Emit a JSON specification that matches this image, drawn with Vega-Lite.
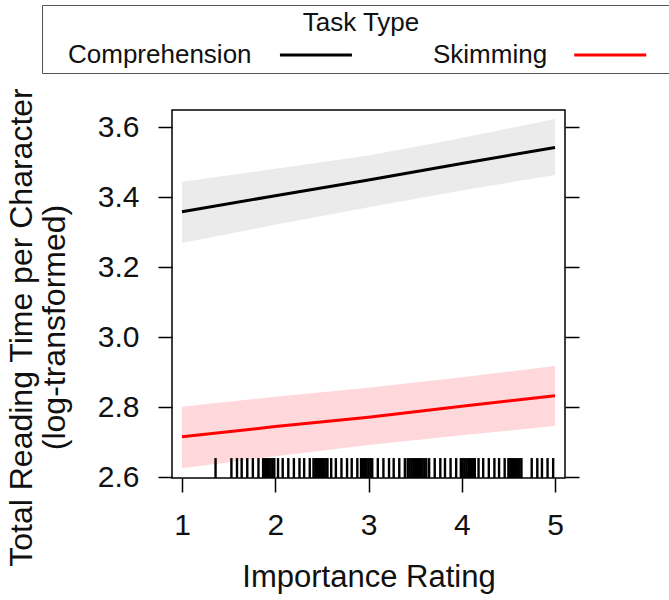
{
  "$schema": "https://vega.github.io/schema/vega-lite/v6.json",
  "width": 393,
  "height": 368,
  "autosize": {"type": "none"},
  "padding": {"left": 172, "top": 110, "right": 104, "bottom": 122},
  "datasets": {
    "fit": [
      {"rating": 1, "task": "Comprehension", "fit": 3.359, "lower": 3.270, "upper": 3.445},
      {"rating": 2, "task": "Comprehension", "fit": 3.405, "lower": 3.322, "upper": 3.482},
      {"rating": 3, "task": "Comprehension", "fit": 3.450, "lower": 3.372, "upper": 3.520},
      {"rating": 4, "task": "Comprehension", "fit": 3.497, "lower": 3.420, "upper": 3.570},
      {"rating": 5, "task": "Comprehension", "fit": 3.543, "lower": 3.464, "upper": 3.624},
      {"rating": 1, "task": "Skimming", "fit": 2.716, "lower": 2.626, "upper": 2.802},
      {"rating": 2, "task": "Skimming", "fit": 2.745, "lower": 2.660, "upper": 2.830},
      {"rating": 3, "task": "Skimming", "fit": 2.772, "lower": 2.692, "upper": 2.856},
      {"rating": 4, "task": "Skimming", "fit": 2.803, "lower": 2.720, "upper": 2.886},
      {"rating": 5, "task": "Skimming", "fit": 2.833, "lower": 2.747, "upper": 2.918}
    ],
    "rug": [
      {"rating": 1.36},
      {"rating": 1.53}, {"rating": 1.59}, {"rating": 1.64}, {"rating": 1.70}, {"rating": 1.76}, {"rating": 1.82},
      {"rating": 1.87}, {"rating": 1.89}, {"rating": 1.91}, {"rating": 1.93}, {"rating": 1.95}, {"rating": 1.97}, {"rating": 1.99},
      {"rating": 2.03}, {"rating": 2.08}, {"rating": 2.14}, {"rating": 2.20}, {"rating": 2.26}, {"rating": 2.31}, {"rating": 2.37},
      {"rating": 2.41}, {"rating": 2.43}, {"rating": 2.45}, {"rating": 2.47}, {"rating": 2.49}, {"rating": 2.51}, {"rating": 2.53}, {"rating": 2.55}, {"rating": 2.56},
      {"rating": 2.60}, {"rating": 2.65}, {"rating": 2.71}, {"rating": 2.77}, {"rating": 2.82}, {"rating": 2.88},
      {"rating": 2.92}, {"rating": 2.94}, {"rating": 2.96}, {"rating": 2.98}, {"rating": 3.00}, {"rating": 3.02}, {"rating": 3.04},
      {"rating": 3.10}, {"rating": 3.16}, {"rating": 3.22}, {"rating": 3.27}, {"rating": 3.33}, {"rating": 3.39},
      {"rating": 3.42}, {"rating": 3.44}, {"rating": 3.46}, {"rating": 3.48}, {"rating": 3.50}, {"rating": 3.52}, {"rating": 3.54}, {"rating": 3.56}, {"rating": 3.58}, {"rating": 3.60}, {"rating": 3.62},
      {"rating": 3.65}, {"rating": 3.71}, {"rating": 3.77}, {"rating": 3.82}, {"rating": 3.88}, {"rating": 3.94},
      {"rating": 3.99}, {"rating": 4.01}, {"rating": 4.03}, {"rating": 4.05}, {"rating": 4.07}, {"rating": 4.09}, {"rating": 4.11}, {"rating": 4.13}, {"rating": 4.14},
      {"rating": 4.18}, {"rating": 4.23}, {"rating": 4.29}, {"rating": 4.35}, {"rating": 4.40}, {"rating": 4.46},
      {"rating": 4.50}, {"rating": 4.52}, {"rating": 4.54}, {"rating": 4.56}, {"rating": 4.58}, {"rating": 4.60}, {"rating": 4.62}, {"rating": 4.64},
      {"rating": 4.75}, {"rating": 4.81}, {"rating": 4.86}, {"rating": 4.92}, {"rating": 4.98}
    ]
  },
  "layer": [
    {
      "data": {"name": "fit"},
      "transform": [{"filter": "datum.task == 'Comprehension'"}],
      "mark": {"type": "area", "color": "#ebebeb", "opacity": 1},
      "encoding": {
        "x": {
          "field": "rating",
          "type": "quantitative",
          "title": "Importance Rating",
          "scale": {"domain": [0.893, 5.107], "nice": false, "zero": false},
          "axis": {"values": [1, 2, 3, 4, 5], "format": "d", "labelPadding": 18, "titlePadding": 22, "titleFontSize": 31}
        },
        "y": {
          "field": "lower",
          "type": "quantitative",
          "title": ["Total Reading Time per Character", "(log-transformed)"],
          "scale": {"domain": [2.598, 3.65], "nice": false, "zero": false},
          "axis": {"values": [2.6, 2.8, 3.0, 3.2, 3.4, 3.6], "format": ".1f", "labelPadding": 19, "titlePadding": 26, "titleFontSize": 32, "titleY": 217}
        },
        "y2": {"field": "upper"}
      }
    },
    {
      "data": {"name": "fit"},
      "transform": [{"filter": "datum.task == 'Skimming'"}],
      "mark": {"type": "area", "color": "#ffd8dc", "opacity": 1},
      "encoding": {
        "x": {"field": "rating", "type": "quantitative"},
        "y": {"field": "lower", "type": "quantitative", "axis": null},
        "y2": {"field": "upper"}
      }
    },
    {
      "data": {"name": "fit"},
      "mark": {"type": "line", "strokeWidth": 3},
      "encoding": {
        "x": {"field": "rating", "type": "quantitative"},
        "y": {"field": "fit", "type": "quantitative", "axis": null},
        "color": {
          "field": "task",
          "type": "nominal",
          "title": "Task Type",
          "scale": {"domain": ["Comprehension", "Skimming"], "range": ["#000000", "#ff0000"]},
          "legend": {
            "orient": "none",
            "legendX": -130,
            "legendY": -105,
            "direction": "horizontal",
            "columns": 2,
            "columnPadding": 32,
            "symbolType": "M-5.8,0H5.8",
            "symbolSize": 400,
            "symbolStrokeWidth": 3,
            "symbolDash": [0, 22, 72, 22],
            "labelAlign": "left",
            "labelLimit": 400,
            "labelFont": "Liberation Sans",
            "labelFontSize": 26,
            "labelColor": "#111",
            "title": "Task Type",
            "titleFont": "Liberation Sans",
            "titleFontSize": 26,
            "titleFontWeight": "normal",
            "titleColor": "#111",
            "titleAnchor": "middle",
            "titlePadding": 6,
            "strokeColor": "#555",
            "fillColor": "white",
            "padding": 5,
            "encode": {
              "symbols": {"update": {"x": {"signal": "length(datum.label) * 14.15 + 85"}}},
              "labels": {"update": {"x": {"value": 21}}}
            }
          }
        }
      }
    },
    {
      "data": {"name": "rug"},
      "mark": {"type": "rule", "color": "#000", "strokeWidth": 2.4},
      "encoding": {
        "x": {"field": "rating", "type": "quantitative"},
        "y": {"datum": 2.598, "type": "quantitative", "axis": {"orient": "right", "labels": false, "title": null, "values": [2.6, 2.8, 3.0, 3.2, 3.4, 3.6]}},
        "y2": {"datum": 2.655}
      }
    }
  ],
  "resolve": {"axis": {"y": "independent"}},
  "config": {
    "view": {"stroke": "#000", "strokeWidth": 1.5},
    "font": "Liberation Sans",
    "axis": {
      "domain": false,
      "grid": false,
      "tickColor": "#000",
      "tickSize": 14,
      "tickWidth": 1.5,
      "labelFont": "Liberation Sans",
      "labelFontSize": 30,
      "labelColor": "#111",
      "titleFont": "Liberation Sans",
      "titleFontSize": 30,
      "titleFontWeight": "normal",
      "titleColor": "#111",
      "titleLineHeight": 33
    }
  }
}
